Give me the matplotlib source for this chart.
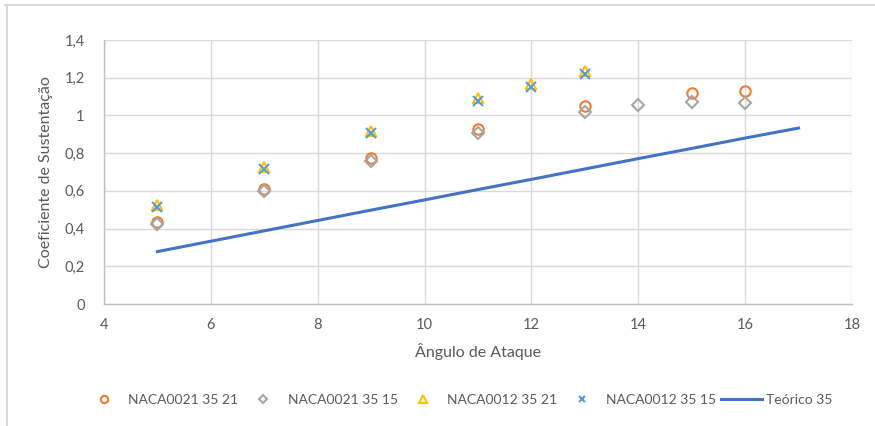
import matplotlib
matplotlib.use('Agg')
import matplotlib.pyplot as plt
from matplotlib.lines import Line2D
from matplotlib.ticker import FuncFormatter

plt.rcParams['font.family'] = ['Lato', 'DejaVu Sans']

# Coeficiente de sustentação por ângulo de ataque
x_0021_21 = [5, 7, 9, 11, 13, 15, 16]
cl_0021_21 = [0.435, 0.612, 0.776, 0.928, 1.050, 1.118, 1.128]

x_0021_15 = [5, 7, 9, 11, 13, 14, 15, 16]
cl_0021_15 = [0.422, 0.600, 0.760, 0.905, 1.020, 1.057, 1.072, 1.068]

x_0012_21 = [5, 7, 9, 11, 12, 13]
cl_0012_21 = [0.526, 0.724, 0.918, 1.090, 1.168, 1.238]

x_0012_15 = [5, 7, 9, 11, 12, 13]
cl_0012_15 = [0.516, 0.714, 0.905, 1.077, 1.152, 1.222]

x_teorico = [5, 6, 7, 8, 9, 10, 11, 12, 13, 14, 15, 16, 17]
cl_teorico = [0.278, 0.333, 0.388, 0.443, 0.498, 0.552, 0.607, 0.661, 0.716, 0.771, 0.825, 0.880, 0.933]

text_col = '#595959'

fig = plt.figure(figsize=(8.75, 4.26), dpi=100)
ax = fig.add_axes([104 / 875, 1 - 304 / 426, 748 / 875, 264 / 426])

ax.plot(x_0021_21, cl_0021_21, linestyle='none', marker='o', markersize=7.5,
        markerfacecolor='none', markeredgecolor='#ED7D31', markeredgewidth=1.5,
        label='NACA0021 35 21', zorder=3)
ax.plot(x_0021_15, cl_0021_15, linestyle='none', marker='D', markersize=6,
        markerfacecolor='none', markeredgecolor='#A5A5A5', markeredgewidth=1.5,
        label='NACA0021 35 15', zorder=3)
ax.plot(x_0012_21, cl_0012_21, linestyle='none', marker='^', markersize=7.5,
        markerfacecolor='none', markeredgecolor='#FFC000', markeredgewidth=1.5,
        label='NACA0012 35 21', zorder=3)
ax.plot(x_0012_15, cl_0012_15, linestyle='none', marker='x', markersize=7,
        markeredgecolor='#5B9BD5', markeredgewidth=1.5,
        label='NACA0012 35 15', zorder=4)
ax.plot(x_teorico, cl_teorico, color='#4472C4', linewidth=2.2,
        label='Teórico 35', zorder=2)

ax.set_xlim(4, 18)
ax.set_ylim(0, 1.4)
ax.set_xticks(range(4, 19, 2))
ax.set_yticks([0, 0.2, 0.4, 0.6, 0.8, 1.0, 1.2, 1.4])
ax.yaxis.set_major_formatter(FuncFormatter(lambda v, p: ('%g' % round(v, 1)).replace('.', ',')))
ax.grid(True, color='#D9D9D9', linewidth=1.0)
ax.set_axisbelow(True)
ax.tick_params(length=0, labelsize=10.5, labelcolor=text_col)
ax.tick_params(axis='x', pad=10)
ax.tick_params(axis='y', pad=14)
for s in ['top', 'right']:
    ax.spines[s].set_visible(False)
for s in ['left', 'bottom']:
    ax.spines[s].set_color('#BFBFBF')
    ax.spines[s].set_linewidth(1.0)

ax.set_xlabel('Ângulo de Ataque', fontsize=11.5, color=text_col, labelpad=8)
ax.set_ylabel('Coeficiente de Sustentação', fontsize=11.5, color=text_col, labelpad=8)

leg = fig.legend(loc='center', bbox_to_anchor=(458 / 875, 1 - 400 / 426), ncol=5,
                 frameon=False, fontsize=10, handlelength=2.9, columnspacing=0.35,
                 handletextpad=0.3, markerscale=0.7)
for t in leg.get_texts():
    t.set_color(text_col)

# moldura externa do gráfico
fig.add_artist(Line2D([5 / 875, 874 / 875], [1 - 5 / 426, 1 - 5 / 426],
                      transform=fig.transFigure, color='#D9D9D9', linewidth=1.5))
fig.add_artist(Line2D([7 / 875, 7 / 875], [0, 1 - 5 / 426],
                      transform=fig.transFigure, color='#D9D9D9', linewidth=1.5))

fig.savefig('out.png', dpi=100)
